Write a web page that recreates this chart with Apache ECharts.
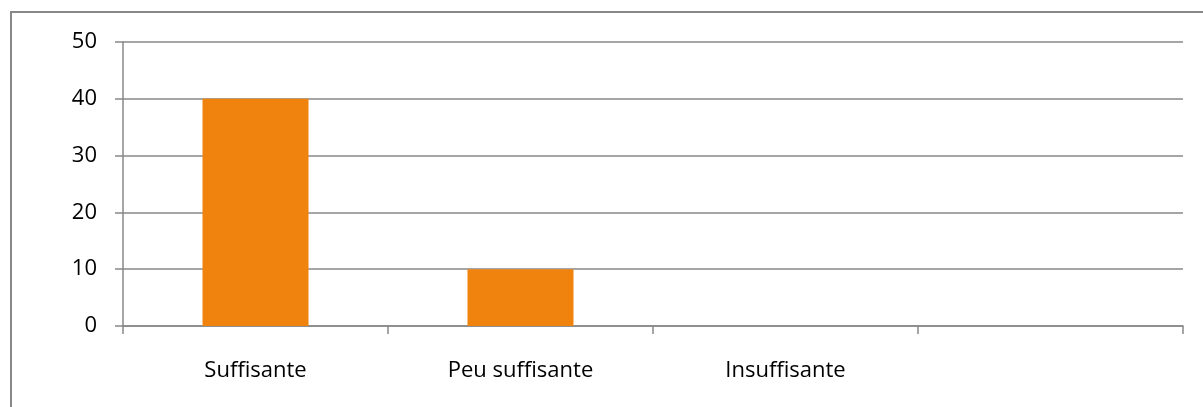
<!DOCTYPE html>
<html lang="fr">
<head>
    <meta charset="UTF-8">
    <title>Graphique</title>
    <script src="https://cdn.jsdelivr.net/npm/echarts@6/dist/echarts.min.js"></script>
    <style>
        html, body { margin: 0; padding: 0; background: #fff; }
        #main { width: 1203px; height: 407px; }
    </style>
</head>
<body>
<div id="main"></div>
<script>
    // donnees du graphique
    var categories = ['Suffisante', 'Peu suffisante', 'Insuffisante', ''];
    var valeurs = [40, 10, 0, 0];
    var yTicks = [0, 10, 20, 30, 40, 50];

    var myChart = echarts.init(document.getElementById('main'));
    var option = {
        animation: false,
        graphic: [{
            type: 'rect',
            shape: { x: 11, y: 12, width: 1300, height: 500 },
            style: { fill: 'none', stroke: '#888', lineWidth: 2 },
            silent: true
        }],
        grid: { left: 123, right: 20, top: 42, bottom: 81 },
        xAxis: {
            type: 'category',
            data: categories,
            boundaryGap: true,
            axisLine: { show: true, lineStyle: { color: '#888', width: 1.5 } },
            axisTick: { show: true, length: 8, lineStyle: { color: '#888', width: 1.5 } },
            axisLabel: { color: '#000', fontSize: 22, margin: 34, fontFamily: 'Open Sans' }
        },
        yAxis: {
            type: 'value',
            min: yTicks[0],
            max: yTicks[yTicks.length - 1],
            interval: 10,
            axisLine: { show: true, lineStyle: { color: '#888', width: 1.5 } },
            axisTick: { show: true, length: 8, lineStyle: { color: '#888', width: 1.5 } },
            axisLabel: { color: '#000', fontSize: 22, margin: 26, fontFamily: 'Open Sans' },
            splitLine: { show: true, lineStyle: { color: '#888', width: 1.5 } }
        },
        series: [{
            type: 'bar',
            data: valeurs,
            barCategoryGap: '60%',
            itemStyle: { color: '#F0820E' }
        }]
    };
    myChart.setOption(option);
</script>
</body>
</html>
